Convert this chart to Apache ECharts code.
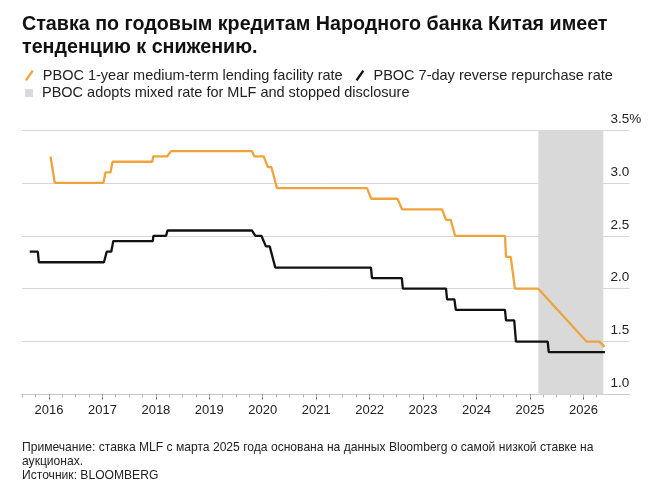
<!DOCTYPE html>
<html><head><meta charset="utf-8">
<script src="https://cdn.jsdelivr.net/npm/echarts@6/dist/echarts.min.js"></script>
<style>html,body{margin:0;padding:0;background:#fff}#c{width:652px;height:502px}</style>
</head><body><div id="c"></div>
<script>
const titleLines = ['Ставка по годовым кредитам Народного банка Китая имеет', 'тенденцию к снижению.'];
const noteLines = ['Примечание: ставка MLF с марта 2025 года основана на данных Bloomberg о самой низкой ставке на', 'аукционах.', 'Источник: BLOOMBERG'];
const seriesNames = ['PBOC 1-year medium-term lending facility rate', 'PBOC 7-day reverse repurchase rate', 'PBOC adopts mixed rate for MLF and stopped disclosure'];

const mlfDates = ['2016-01-12','2016-02-10','2017-01-07','2017-01-22','2017-02-25','2017-03-11','2017-12-07','2017-12-14','2018-03-19','2018-04-15','2019-10-20','2019-11-05','2020-01-08','2020-02-05','2020-02-29','2020-04-08','2021-12-14','2022-01-12','2022-07-10','2022-08-11','2023-05-11','2023-06-07','2023-07-09','2023-08-08','2024-07-14','2024-07-21','2024-08-22','2024-09-20','2025-02-27','2026-01-22','2026-04-20','2026-05-26'];
const mlfValues = [3.25,3.00,3.00,3.10,3.10,3.20,3.20,3.25,3.25,3.30,3.30,3.25,3.25,3.15,3.15,2.95,2.95,2.85,2.85,2.75,2.75,2.65,2.65,2.50,2.50,2.30,2.30,2.00,2.00,1.50,1.50,1.45];

const repoDates = ['2015-08-23','2015-10-17','2015-10-24','2017-01-11','2017-01-30','2017-03-02','2017-03-16','2017-12-11','2017-12-15','2018-03-12','2018-03-21','2019-10-20','2019-11-12','2019-12-23','2020-01-23','2020-02-18','2020-03-27','2022-01-10','2022-01-17','2022-08-09','2022-08-16','2023-06-07','2023-06-14','2023-08-03','2023-08-13','2024-07-14','2024-07-21','2024-09-15','2024-09-27','2025-05-02','2025-05-09','2026-05-28'];
const repoValues = [2.35,2.35,2.25,2.25,2.35,2.35,2.45,2.45,2.50,2.50,2.55,2.55,2.50,2.50,2.40,2.40,2.20,2.20,2.10,2.10,2.00,2.00,1.90,1.90,1.80,1.80,1.70,1.70,1.50,1.50,1.40,1.40];

const shadeRange = ['2025-02-27', '2026-05-17'];
const yearTicks = [2016, 2017, 2018, 2019, 2020, 2021, 2022, 2023, 2024, 2025, 2026];
const yTickLabels = ['1.0', '1.5', '2.0', '2.5', '3.0', '3.5%'];

function toTime(s) { const p = s.split('-').map(Number); return new Date(p[0], p[1] - 1, p[2]).getTime(); }

const FONT = '"Liberation Sans", Arial, Helvetica, sans-serif';
const xMin = new Date(2015, 6, 1).getTime();
const xMax = new Date(2026, 10, 12).getTime();
const yearValues = yearTicks.map(y => new Date(y, 0, 1).getTime());
const quarterValues = [];
for (let y = 2015; y <= 2026; y++) for (let m = 0; m < 12; m += 3) {
  const t = new Date(y, m, 1).getTime();
  if (t >= xMin && t <= new Date(2026, 3, 1).getTime()) quarterValues.push(t);
}
const slash = 'path://M0,10 L7,0 L9,1.4 L2,11.4 Z';
const orange = '#f0a33c', black = '#111111', shade = '#d9d9d9';

const chart = echarts.init(document.getElementById('c'), null, { renderer: 'canvas' });
chart.setOption({
  animation: false,
  backgroundColor: '#ffffff',
  textStyle: { fontFamily: FONT },
  grid: { left: 22, right: 22.5, top: 130, bottom: 107.5, containLabel: false },
  legend: [
    { data: [{ name: seriesNames[0], icon: slash }, { name: seriesNames[1], icon: slash }],
      left: 25, top: 68, padding: 0, itemWidth: 9, itemHeight: 11, itemGap: 13, selectedMode: false,
      itemStyle: { borderWidth: 0 },
      textStyle: { fontFamily: FONT, fontSize: 14.5, color: '#222', padding: [0, 0, 0, 4] } },
    { data: [{ name: seriesNames[2], icon: 'rect' }],
      left: 25, top: 85.5, padding: 0, itemWidth: 8, itemHeight: 8, selectedMode: false,
      itemStyle: { borderWidth: 0 },
      textStyle: { fontFamily: FONT, fontSize: 14.5, color: '#222', padding: [0, 0, 0, 4] } }
  ],
  xAxis: [
    { type: 'value', min: xMin, max: xMax, position: 'bottom', scale: true,
      axisLine: { show: true, lineStyle: { color: '#c8c8c8', width: 1 } },
      axisTick: { show: true, length: 5, lineStyle: { color: '#555', width: 1 }, customValues: yearValues },
      axisLabel: { show: true, customValues: yearValues, margin: 9, fontSize: 13, color: '#222', fontFamily: FONT,
        formatter: v => String(new Date(v).getFullYear()) },
      splitLine: { show: false } },
    { type: 'value', min: xMin, max: xMax, position: 'bottom', scale: true,
      axisLine: { show: false },
      axisTick: { show: true, length: 3, lineStyle: { color: '#b5b5b5', width: 1 }, customValues: quarterValues },
      axisLabel: { show: false },
      splitLine: { show: false } }
  ],
  yAxis: {
    type: 'value', position: 'right', min: 1, max: 3.5, interval: 0.5,
    axisLine: { show: false }, axisTick: { show: false },
    splitLine: { show: true, lineStyle: { color: '#d6d6d6', width: 1 } },
    axisLabel: { inside: true, align: 'left', margin: 19, verticalAlign: 'bottom', padding: [0, 0, 4, 0],
      fontSize: 13.5, color: '#222', fontFamily: FONT,
      formatter: v => yTickLabels[Math.round((v - 1) / 0.5)] }
  },
  series: [
    { name: seriesNames[2], type: 'line', data: [], silent: true,
      itemStyle: { color: shade }, lineStyle: { color: shade },
      markArea: { silent: true, itemStyle: { color: shade },
        data: [[{ xAxis: toTime(shadeRange[0]) }, { xAxis: toTime(shadeRange[1]) }]] } },
    { name: seriesNames[0], type: 'line', symbol: 'none', showSymbol: false,
      data: mlfDates.map((d, i) => [toTime(d), mlfValues[i]]),
      itemStyle: { color: orange }, lineStyle: { color: orange, width: 2.3 }, z: 3 },
    { name: seriesNames[1], type: 'line', symbol: 'none', showSymbol: false,
      data: repoDates.map((d, i) => [toTime(d), repoValues[i]]),
      itemStyle: { color: black }, lineStyle: { color: black, width: 2.3 }, z: 3 }
  ],
  graphic: [
    ...titleLines.map((t, i) => ({ type: 'text', x: 22, y: 24.5 + i * 23,
      style: { text: t, font: 'bold 19.7px ' + FONT, fill: '#111', verticalAlign: 'middle' } })),
    ...noteLines.map((t, i) => ({ type: 'text', x: 22, y: [447.3, 461.5, 476][i],
      style: { text: t, font: '12.1px ' + FONT, fill: '#222', verticalAlign: 'middle' } }))
  ]
});
</script></body></html>
